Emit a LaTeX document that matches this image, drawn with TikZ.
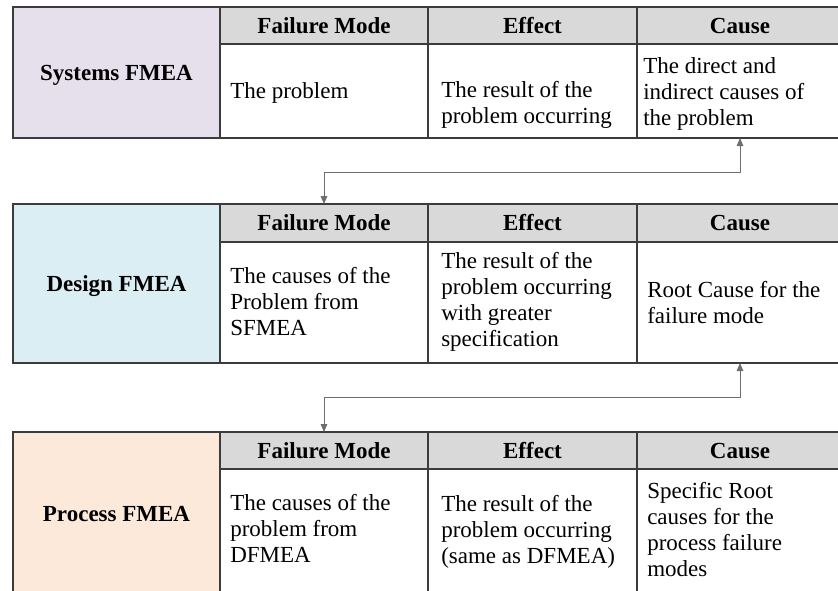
\documentclass[tikz,border=0pt]{standalone}
\usepackage{fontspec}
\setmainfont{Liberation Serif}
\usetikzlibrary{fit,arrows.meta,calc}

\definecolor{sysfill}{HTML}{E5E0EC}
\definecolor{desfill}{HTML}{DBEEF4}
\definecolor{profill}{HTML}{FDE9D9}
\definecolor{hdrfill}{HTML}{D9D9D9}
\definecolor{rulegray}{HTML}{3C3C3C}
\definecolor{linkgray}{HTML}{6E6E6E}

\newcommand\cellfont{\fontsize{17.25pt}{19.5pt}\selectfont}
\newcommand\lns[1]{\begin{tabular}[t]{@{}l@{}}#1\end{tabular}}

% One FMEA block: #1 name prefix, #2 top, #3 header bottom, #4 bottom,
% #5 label fill, #6 label text
\newcommand\fmeatable[6]{%
  \node[cellbox, fill=#5, fit={(13,#2) (220,#4)}] (#1-lab) {};
  \node[hdrbox, fit={(220,#2) (428,#3)}] (#1-fmh) {};
  \node[hdrbox, fit={(428,#2) (637,#3)}] (#1-efh) {};
  \node[hdrbox, fit={(637,#2) (843,#3)}] (#1-cah) {};
  \node[bodybox, fit={(220,#3) (428,#4)}] (#1-fm) {};
  \node[bodybox, fit={(428,#3) (637,#4)}] (#1-ef) {};
  \node[bodybox, fit={(637,#3) (843,#4)}] (#1-ca) {};
  \draw[frame] (13,#2) rectangle (843,#4);
  \draw[frame] (220,#3) -- (843,#3);
  \node[hdtxt] (#1-lab-t) at ($(#1-lab.center)+(0,8.3)$) {#6};
  \node[hdtxt] (#1-fmh-t) at ($(#1-fmh.north)+(0,26)$) {Failure Mode};
  \node[hdtxt] (#1-efh-t) at ($(#1-efh.north)+(0,26)$) {Effect};
  \node[hdtxt] (#1-cah-t) at ($(#1-cah.north)+(0,26)$) {Cause};
}

\begin{document}
\begin{tikzpicture}[x=0.75pt, y=-0.75pt,
  cellbox/.style={draw=rulegray, line width=0.8pt, inner sep=0pt, outer sep=0pt},
  hdrbox/.style={cellbox, fill=hdrfill},
  bodybox/.style={cellbox, fill=white},
  hdtxt/.style={inner sep=0pt, anchor=base, font=\cellfont\bfseries},
  bodytxt/.style={inner sep=0pt, anchor=base west, font=\cellfont},
  frame/.style={draw=rulegray, line width=1.3pt},
  conn/.style={draw=linkgray, line width=0.7pt,
    {Triangle[length=6pt,width=5pt]}-{Triangle[length=6pt,width=5pt]}}]

\useasboundingbox (0,0) rectangle (838,590);
\clip (0,0) rectangle (838,590);

% Systems FMEA
\fmeatable{s}{7}{44}{138}{sysfill}{Systems FMEA}
\node[bodytxt] (s-fm-t) at (230,98) {The problem};
\node[bodytxt] (s-ef-t) at (441,97) {\lns{The result of the\\problem occurring}};
\node[bodytxt] (s-ca-t) at (643,73) {\lns{The direct and\\indirect causes of\\the problem}};

% Design FMEA
\fmeatable{d}{204}{242}{363}{desfill}{Design FMEA}
\node[bodytxt] (d-fm-t) at (230,283.5) {\lns{The causes of the\\Problem from\\SFMEA}};
\node[bodytxt] (d-ef-t) at (441,268) {\lns{The result of the\\problem occurring\\with greater\\specification}};
\node[bodytxt] (d-ca-t) at (647,297) {\lns{Root Cause for the\\failure mode}};

% Process FMEA
\fmeatable{p}{432}{469}{595}{profill}{Process FMEA}
\node[bodytxt] (p-fm-t) at (230,510) {\lns{The causes of the\\problem from\\DFMEA}};
\node[bodytxt] (p-ef-t) at (441,511) {\lns{The result of the\\problem occurring\\(same as DFMEA)}};
\node[bodytxt] (p-ca-t) at (647,498) {\lns{Specific Root\\causes for the\\process failure\\modes}};

% Links: each level's causes become the next level's failure modes
\draw[conn] (s-ca.south) -- ++(0,34) -| (d-fmh.north);
\draw[conn] (d-ca.south) -- ++(0,34) -| (p-fmh.north);

\end{tikzpicture}
\end{document}
